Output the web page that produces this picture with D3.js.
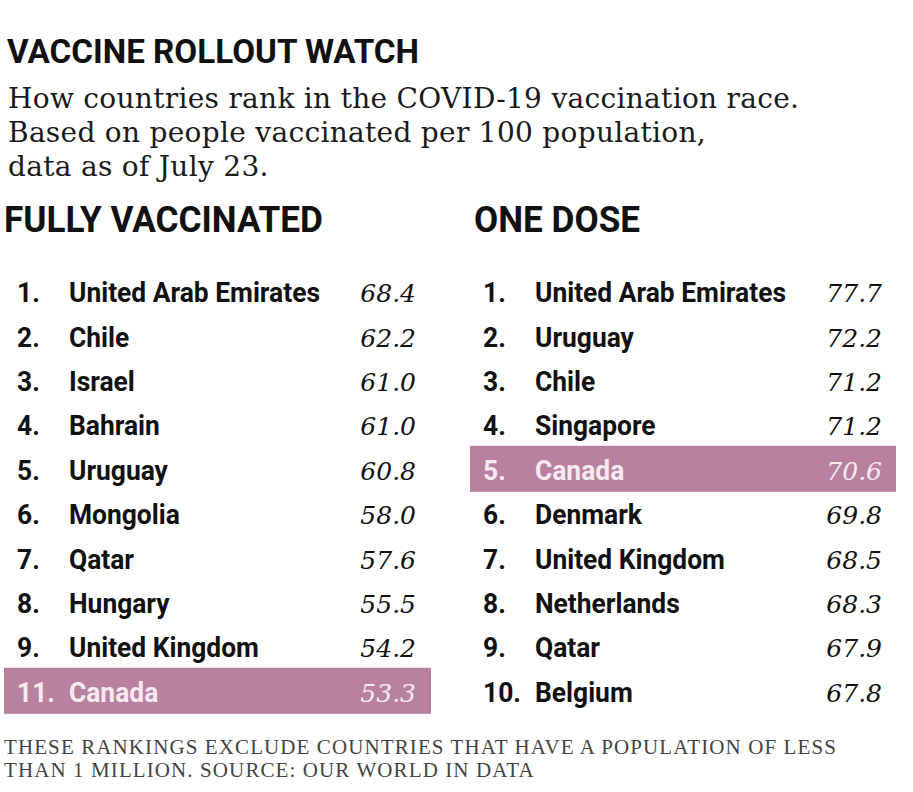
<!DOCTYPE html>
<html>
<head>
<meta charset="utf-8">
<script src="https://cdn.jsdelivr.net/npm/d3@7"></script>
<style>
  html, body { margin: 0; padding: 0; background: #fff; }
  svg { display: block; }
  .cond { font-family: "Roboto", "Liberation Sans", sans-serif; font-weight: 700; }
  .serif { font-family: "DejaVu Serif", "Liberation Serif", serif; }
</style>
</head>
<body>
<div id="chart"></div>
<script>
// Fully vaccinated ranking
const fullyRanks = [1, 2, 3, 4, 5, 6, 7, 8, 9, 11];
const fullyCountries = ["United Arab Emirates", "Chile", "Israel", "Bahrain", "Uruguay",
  "Mongolia", "Qatar", "Hungary", "United Kingdom", "Canada"];
const fullyValues = [68.4, 62.2, 61.0, 61.0, 60.8, 58.0, 57.6, 55.5, 54.2, 53.3];

// One dose ranking
const oneRanks = [1, 2, 3, 4, 5, 6, 7, 8, 9, 10];
const oneCountries = ["United Arab Emirates", "Uruguay", "Chile", "Singapore", "Canada",
  "Denmark", "United Kingdom", "Netherlands", "Qatar", "Belgium"];
const oneValues = [77.7, 72.2, 71.2, 71.2, 70.6, 69.8, 68.5, 68.3, 67.9, 67.8];

const highlight = "Canada";

const width = 913, height = 792;
const hlColor = "#b8819f";

const svg = d3.select("#chart").append("svg")
  .attr("width", width)
  .attr("height", height);

// condensed sans text: squeeze horizontally around its x position
function condText(sel, x, y, size, sx) {
  return sel.append("text")
    .attr("class", "cond")
    .attr("transform", `translate(${x},${y}) scale(${sx},1)`)
    .attr("font-size", size);
}

// work out a squeeze factor so the title spans the same width as the original
const probe = svg.append("text").attr("class", "cond").attr("font-size", 34)
  .text("VACCINE ROLLOUT WATCH");
const sx = 412 / probe.node().getComputedTextLength();
probe.remove();

// Title
condText(svg, 7, 63, 34, sx)
  .attr("fill", "#111")
  .text("VACCINE ROLLOUT WATCH");

// Subtitle lines
const subtitle = [
  "How countries rank in the COVID-19 vaccination race.",
  "Based on people vaccinated per 100 population,",
  "data as of July 23."
];
svg.append("g").selectAll("text")
  .data(subtitle)
  .join("text")
  .attr("class", "serif")
  .attr("x", 8)
  .attr("y", (d, i) => 108 + i * 34)
  .attr("font-size", 28)
  .attr("letter-spacing", 0.3)
  .attr("fill", "#1a1a1a")
  .text(d => d);

// Row scale shared by both columns
const y = d3.scaleBand()
  .domain(d3.range(10))
  .range([270, 714]);

function drawColumn(opts) {
  const g = svg.append("g");

  condText(g, opts.headX, 232, 36, sx)
    .attr("fill", "#111")
    .text(opts.heading);

  const rows = opts.countries.map((c, i) => ({
    rank: opts.ranks[i], country: c, value: opts.values[i], i
  }));

  // highlight band
  g.selectAll("rect")
    .data(rows.filter(d => d.country === highlight))
    .join("rect")
    .attr("x", opts.hlX0)
    .attr("y", d => y(d.i) + (y.bandwidth() - 46) / 2 - 1)
    .attr("width", opts.hlX1 - opts.hlX0)
    .attr("height", 46)
    .attr("fill", hlColor);

  const row = g.selectAll("g.row")
    .data(rows)
    .join("g")
    .attr("class", "row")
    .attr("transform", d => `translate(0,${y(d.i) + y.bandwidth() / 2 + 10})`);

  const txtFill = d => d.country === highlight ? "#f7e9f0" : "#111";

  row.each(function(d) {
    const r = d3.select(this);
    condText(r, opts.rankX, 0, 27, sx).attr("font-weight", 500)
      .attr("fill", txtFill(d)).text(d.rank + ".");
    condText(r, opts.nameX, 0, 27, sx).attr("font-weight", 500)
      .attr("fill", txtFill(d)).text(d.country);
  });

  row.append("text")
    .attr("class", "serif")
    .attr("x", opts.valX)
    .attr("text-anchor", "end")
    .attr("font-size", 25).attr("font-style", "italic")
    .attr("fill", txtFill)
    .text(d => d.value.toFixed(1));
}

drawColumn({
  heading: "FULLY VACCINATED", headX: 4,
  ranks: fullyRanks, countries: fullyCountries, values: fullyValues,
  rankX: 17, nameX: 69, valX: 416, hlX0: 4, hlX1: 431
});

drawColumn({
  heading: "ONE DOSE", headX: 474,
  ranks: oneRanks, countries: oneCountries, values: oneValues,
  rankX: 483, nameX: 535, valX: 882, hlX0: 470, hlX1: 896
});

// Footnote
const footnote = [
  "THESE RANKINGS EXCLUDE COUNTRIES THAT HAVE A POPULATION OF LESS",
  "THAN 1 MILLION. SOURCE: OUR WORLD IN DATA"
];
svg.append("g").selectAll("text")
  .data(footnote)
  .join("text")
  .attr("font-family", "'Liberation Serif', serif")
  .attr("x", 4)
  .attr("y", (d, i) => 754 + i * 23)
  .attr("font-size", 21)
  .attr("letter-spacing", 1.1)
  .attr("fill", "#444")
  .text(d => d);
</script>
</body>
</html>
